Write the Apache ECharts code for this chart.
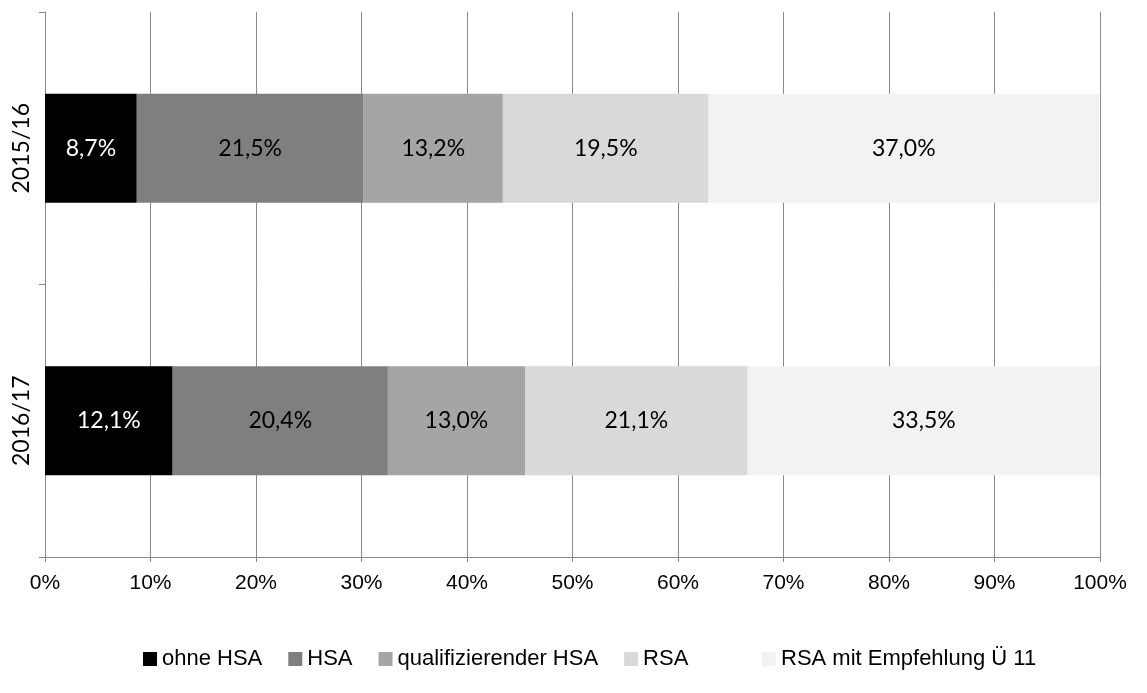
<!DOCTYPE html>
<html>
<head>
<meta charset="utf-8">
<script src="https://cdn.jsdelivr.net/npm/echarts@6/dist/echarts.min.js"></script>
<style>
  html, body { margin: 0; padding: 0; background: #fff; }
  #chart { width: 1147px; height: 693px; }
</style>
</head>
<body>
<div id="chart"></div>
<script>
// Schuljahre (von oben nach unten)
const years = ['2015/16', '2016/17'];

// Anteile je Abschluss in %
const ohneHSA = [8.7, 12.1];
const hsa = [21.5, 20.4];
const qualHSA = [13.2, 13.0];
const rsa = [19.5, 21.1];
const rsaEmpf = [37.0, 33.5];

const seriesNames = ['ohne HSA', 'HSA', 'qualifizierender HSA', 'RSA', 'RSA mit Empfehlung Ü 11'];
const seriesData = [ohneHSA, hsa, qualHSA, rsa, rsaEmpf];
const colors = ['#000000', '#7f7f7f', '#a5a5a5', '#d9d9d9', '#f2f2f2'];
const labelColors = ['#ffffff', '#000000', '#000000', '#000000', '#000000'];

const myChart = echarts.init(document.getElementById('chart'));

// zwei Legenden, damit der letzte Eintrag weiter rechts steht wie im Original
const legendBase = {
    bottom: 18,
    itemWidth: 14,
    itemHeight: 14,
    itemGap: 26,
    icon: 'rect',
    textStyle: { fontFamily: 'Liberation Sans', fontSize: 22, color: '#000' }
};

const option = {
    animation: false,
    grid: { left: 45, right: 47, top: 12, bottom: 136, containLabel: false },
    legend: [
        Object.assign({}, legendBase, { left: 138, data: seriesNames.slice(0, 4) }),
        Object.assign({}, legendBase, { left: 757, data: seriesNames.slice(4) })
    ],
    xAxis: {
        type: 'value',
        min: 0,
        max: 100,
        interval: 10,
        axisLine: { show: true, lineStyle: { color: '#898989' } },
        axisTick: { show: true, length: 5, lineStyle: { color: '#898989' } },
        splitLine: { show: true, lineStyle: { color: '#898989', width: 1 } },
        axisLabel: {
            formatter: v => v + '%',
            color: '#000',
            fontFamily: 'Liberation Sans',
            fontSize: 21,
            margin: 16
        }
    },
    yAxis: {
        type: 'category',
        inverse: true,
        data: years,
        axisLine: { show: true, lineStyle: { color: '#898989' } },
        axisTick: { show: true, length: 6, lineStyle: { color: '#898989' } },
        axisLabel: {
            rotate: 90,
            color: '#000',
            fontFamily: 'Lato',
            fontSize: 23,
            margin: 12
        }
    },
    series: seriesData.map((d, i) => ({
        name: seriesNames[i],
        type: 'bar',
        stack: 'total',
        barWidth: '40%',
        data: d,
        itemStyle: { color: colors[i] },
        label: {
            show: true,
            position: 'inside',
            formatter: p => p.value.toFixed(1).replace('.', ',') + '%',
            color: labelColors[i],
            fontFamily: 'Lato',
            fontSize: 23
        }
    }))
};

myChart.setOption(option);
</script>
</body>
</html>
